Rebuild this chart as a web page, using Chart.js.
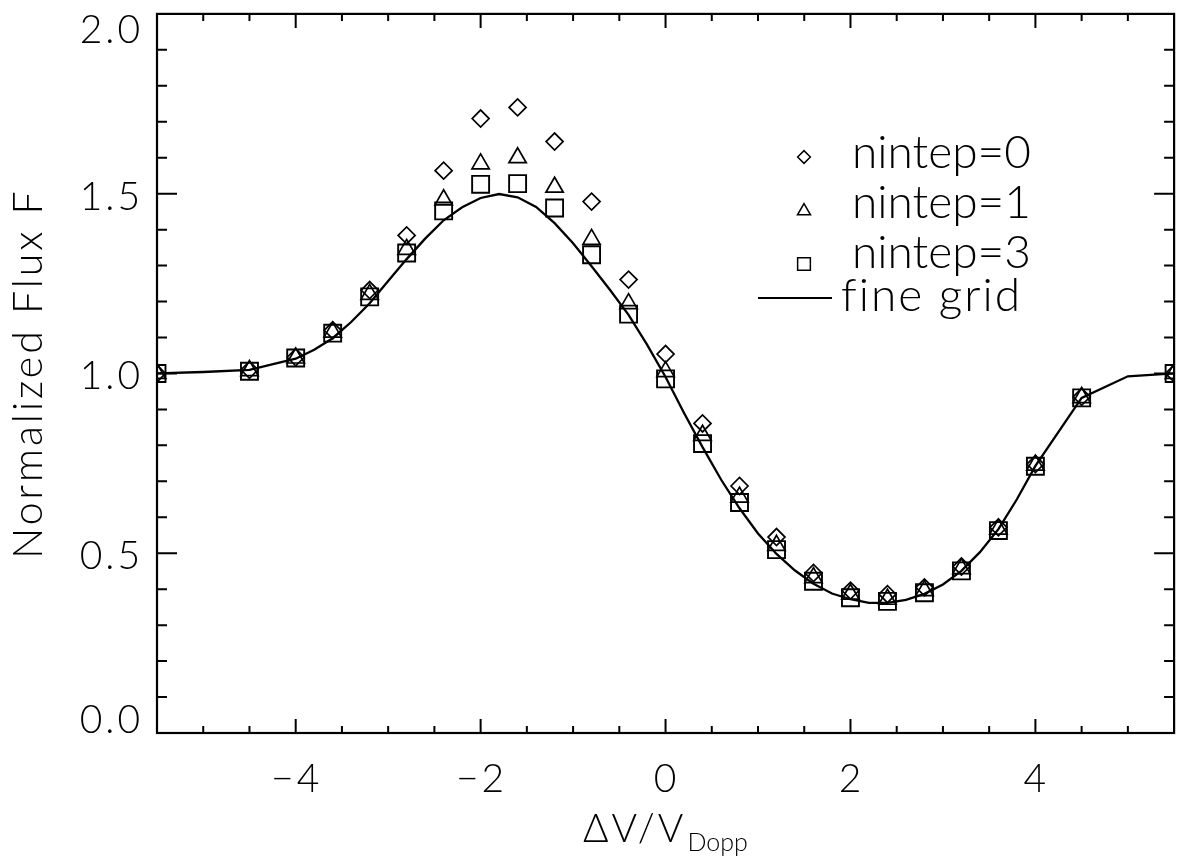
<!DOCTYPE html>
<html>
<head>
<meta charset="utf-8">
<script src="https://cdn.jsdelivr.net/npm/chart.js@4/dist/chart.umd.min.js"></script>
<style>
  html, body { margin: 0; padding: 0; background: #fff; }
  canvas { display: block; }
</style>
</head>
<body>
<canvas id="fluxChart" width="1188" height="861"></canvas>
<script>
// sample points (coarse frequency grid)
const sampleX = [-5.5, -4.5, -4.0, -3.6, -3.2, -2.8, -2.4, -2.0, -1.6, -1.2, -0.8, -0.4,
                 0.0, 0.4, 0.8, 1.2, 1.6, 2.0, 2.4, 2.8, 3.2, 3.6, 4.0, 4.5, 5.5];
const nintep0 = [1.000, 1.010, 1.045, 1.120, 1.232, 1.384, 1.564, 1.709, 1.740, 1.645, 1.478, 1.261,
                 1.054, 0.861, 0.687, 0.545, 0.445, 0.396, 0.386, 0.405, 0.463, 0.572, 0.748, 0.935, 1.000];
const nintep1 = [1.000, 1.008, 1.043, 1.115, 1.220, 1.345, 1.483, 1.583, 1.600, 1.518, 1.373, 1.194,
                 1.005, 0.828, 0.656, 0.522, 0.432, 0.386, 0.372, 0.396, 0.457, 0.567, 0.745, 0.933, 1.000];
const nintep3 = [1.000, 1.006, 1.043, 1.112, 1.213, 1.335, 1.452, 1.526, 1.528, 1.460, 1.330, 1.165,
                 0.985, 0.805, 0.641, 0.510, 0.422, 0.376, 0.366, 0.390, 0.451, 0.563, 0.742, 0.932, 1.000];

// fine grid solution
const fineX = [-5.5, -5.0, -4.5, -4.0, -3.8, -3.6, -3.4, -3.2, -3.0, -2.8, -2.6, -2.4, -2.2, -2.0,
               -1.8, -1.6, -1.4, -1.2, -1.0, -0.8, -0.6, -0.4, -0.2, 0.0, 0.2, 0.4, 0.6, 0.8,
               1.0, 1.2, 1.4, 1.6, 1.8, 2.0, 2.2, 2.4, 2.6, 2.8, 3.0, 3.2, 3.4, 3.6, 3.8, 4.0,
               4.5, 5.0, 5.5];
const fineF = [1.000, 1.004, 1.010, 1.041, 1.066, 1.098, 1.143, 1.195, 1.257, 1.318, 1.375, 1.426, 1.462, 1.488,
               1.499, 1.490, 1.463, 1.418, 1.362, 1.298, 1.232, 1.163, 1.080, 0.990, 0.890, 0.795, 0.705, 0.625,
               0.555, 0.498, 0.452, 0.415, 0.388, 0.372, 0.362, 0.362, 0.370, 0.387, 0.413, 0.451, 0.503, 0.567, 0.650, 0.743,
               0.932, 0.992, 1.000];

// axis ticks
const xMajorTicks = [-4, -2, 0, 2, 4];
const xTickLabels = ['\u22124', '\u22122', '0', '2', '4'];
const yMajorTicks = [0, 0.5, 1.0, 1.5, 2.0];
const yTickLabels = ['0.0', '0.5', '1.0', '1.5', '2.0'];

const legendLabels = ['nintep=0', 'nintep=1', 'nintep=3', 'fine grid'];

const FONT = "Lato, Roboto, 'Noto Sans', sans-serif";

// open symbols, like IDL psym 4 / 5 / 6
const symbols = [
  { pointStyle: 'rectRot', radius: 8.5, borderWidth: 1.7 },
  { pointStyle: 'triangle', radius: 10, borderWidth: 1.7 },
  { pointStyle: 'rect', radius: 12, borderWidth: 1.9 }
];

function toPoints(xs, ys) {
  return xs.map((x, i) => ({ x: x, y: ys[i] }));
}

function symbolDataset(label, values, sym) {
  return {
    label: label,
    data: toPoints(sampleX, values),
    pointStyle: sym.pointStyle,
    pointRadius: sym.radius,
    pointBorderWidth: sym.borderWidth,
    pointBorderColor: '#000',
    pointBackgroundColor: 'rgba(0,0,0,0)',
    clip: 0
  };
}

// frame, inward ticks, labels, titles and legend
const framePlugin = {
  id: 'idlFrame',
  afterDatasetsDraw(chart) {
    const ctx = chart.ctx;
    const a = chart.chartArea;
    const xs = chart.scales.x;
    const ys = chart.scales.y;
    ctx.save();
    ctx.strokeStyle = '#000';
    ctx.fillStyle = '#000';

    // box
    ctx.lineWidth = 2.2;
    ctx.strokeRect(a.left, a.top, a.right - a.left, a.bottom - a.top);

    // x ticks every 0.5, major on labelled values
    ctx.lineWidth = 2;
    ctx.beginPath();
    for (let k = -10; k <= 10; k++) {
      const v = k * 0.5;
      const px = xs.getPixelForValue(v);
      const len = xMajorTicks.includes(v) ? 14 : 7;
      ctx.moveTo(px, a.bottom); ctx.lineTo(px, a.bottom - len);
      ctx.moveTo(px, a.top); ctx.lineTo(px, a.top + len);
    }
    // y ticks every 0.1, major every 0.5
    for (let k = 1; k < 20; k++) {
      const py = ys.getPixelForValue(k / 10);
      const len = (k % 5 === 0) ? 20 : 10;
      ctx.moveTo(a.left, py); ctx.lineTo(a.left + len, py);
      ctx.moveTo(a.right, py); ctx.lineTo(a.right - len, py);
    }
    ctx.stroke();

    // tick labels
    ctx.font = '300 39px ' + FONT;
    ctx.letterSpacing = '3px';
    ctx.textBaseline = 'alphabetic';
    ctx.textAlign = 'center';
    xMajorTicks.forEach((v, i) => {
      ctx.fillText(xTickLabels[i], xs.getPixelForValue(v) + 1, 792);
    });
    ctx.textAlign = 'right';
    yMajorTicks.forEach((v, i) => {
      let base = ys.getPixelForValue(v) + 16;
      base = Math.max(base, a.top + 29);
      base = Math.min(base, a.bottom);
      ctx.fillText(yTickLabels[i], 143, base);
    });

    // y title
    ctx.save();
    ctx.translate(42, (a.top + a.bottom) / 2);
    ctx.rotate(-Math.PI / 2);
    ctx.textAlign = 'center';
    ctx.font = '300 41px ' + FONT;
    ctx.letterSpacing = '3px';
    ctx.fillText('Normalized Flux F', 0, 0);
    ctx.restore();

    // x title with subscript
    ctx.textAlign = 'left';
    ctx.letterSpacing = '3px';
    ctx.font = '300 39px ' + FONT;
    const mainTxt = '\u0394V/V';
    const wMain = ctx.measureText(mainTxt).width;
    const startX = 583;
    ctx.fillText(mainTxt, startX, 842);
    ctx.letterSpacing = '0px';
    ctx.font = '300 25px ' + FONT;
    ctx.fillText('Dopp', startX + wMain + 1, 851);

    // legend
    ctx.font = '300 46px ' + FONT;
    const rowY = [157, 211, 264];
    const rowBase = [168, 218, 268];
    ctx.lineWidth = 1.5;
    symbols.forEach((s, i) => {
      ctx.fillStyle = 'rgba(0,0,0,0)';
      Chart.helpers.drawPoint(ctx, {
        pointStyle: s.pointStyle,
        radius: s.radius * 0.75,
        borderWidth: 1.5,
        rotation: 0
      }, 804, rowY[i]);
      ctx.fillStyle = '#000';
      ctx.fillText(legendLabels[i], 852, rowBase[i]);
    });
    ctx.lineWidth = 2;
    ctx.beginPath();
    ctx.moveTo(758, 298); ctx.lineTo(832, 298);
    ctx.stroke();
    ctx.letterSpacing = '2px';
    ctx.fillText(legendLabels[3], 841, 311);

    ctx.restore();
  }
};

const chart = new Chart(document.getElementById('fluxChart'), {
  type: 'scatter',
  data: {
    datasets: [
      {
        label: legendLabels[3],
        data: toPoints(fineX, fineF),
        showLine: true,
        borderColor: '#000',
        borderWidth: 2.3,
        pointRadius: 0,
        tension: 0,
        clip: 0
      },
      symbolDataset(legendLabels[0], nintep0, symbols[0]),
      symbolDataset(legendLabels[1], nintep1, symbols[1]),
      symbolDataset(legendLabels[2], nintep3, symbols[2])
    ]
  },
  options: {
    responsive: false,
    animation: false,
    devicePixelRatio: 1,
    layout: { padding: { left: 157, right: 13, top: 11, bottom: 128 } },
    scales: {
      x: { type: 'linear', min: -5.5, max: 5.5, display: false },
      y: { type: 'linear', min: 0, max: 2.0, display: false }
    },
    plugins: {
      legend: { display: false },
      tooltip: { enabled: false }
    }
  },
  plugins: [framePlugin]
});
</script>
</body>
</html>
